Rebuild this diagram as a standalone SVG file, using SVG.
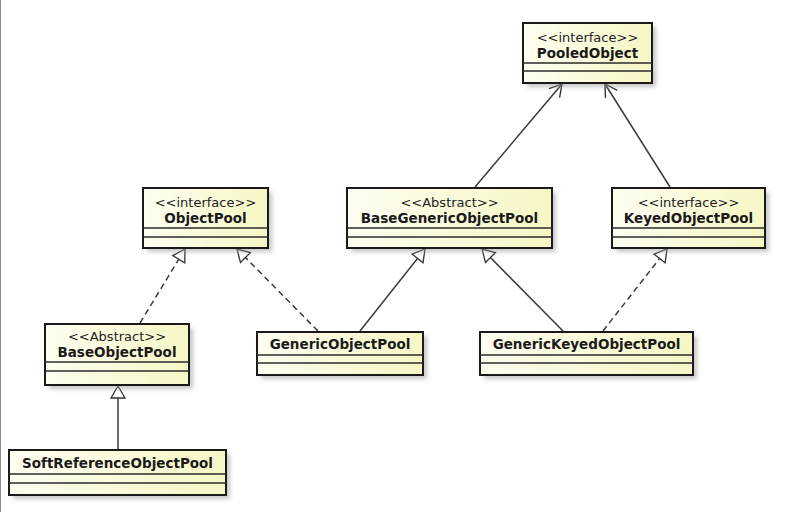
<svg xmlns="http://www.w3.org/2000/svg" width="800" height="512" viewBox="0 0 800 512">
<defs>
<linearGradient id="fill" x1="0" y1="0" x2="1" y2="0">
<stop offset="0" stop-color="#fefef2"/>
<stop offset="1" stop-color="#f6f6c4"/>
</linearGradient>
<filter id="sh" x="-10%" y="-10%" width="130%" height="140%">
<feGaussianBlur stdDeviation="2"/>
</filter>
<marker id="tri" markerUnits="userSpaceOnUse" markerWidth="16" markerHeight="16" refX="13" refY="7" orient="auto" overflow="visible">
<path d="M1,0 L13,7 L1,14 Z" fill="#ffffff" stroke="#333333" stroke-width="1.3" stroke-dasharray="none"/>
</marker>
<marker id="open" markerUnits="userSpaceOnUse" markerWidth="16" markerHeight="16" refX="13" refY="7" orient="auto" overflow="visible">
<path d="M1,0 L13,7 L1,14" fill="none" stroke="#333333" stroke-width="1.4"/>
</marker>
</defs>
<style>
.shadow{fill:#9a9a9a;opacity:0.55;filter:url(#sh)}
.box{fill:url(#fill);stroke:#1a1a1a;stroke-width:2}
.sep{stroke:#2a2a2a;stroke-width:1.3}
.st{font-family:"DejaVu Sans",sans-serif;font-size:13px;fill:#222;text-anchor:middle}
.nm{font-family:"DejaVu Sans",sans-serif;font-size:13.5px;font-weight:bold;fill:#1a1a1a;text-anchor:middle}
.ln{stroke:#3a3a3a;stroke-width:1.5;fill:none}
.dash{stroke-dasharray:6,4}
</style>
<rect width="800" height="512" fill="#ffffff"/>
<line x1="0.5" y1="0" x2="0.5" y2="512" stroke="#8a8a8a" stroke-width="1"/>

<g id="connectors">
<line class="ln dash" x1="140" y1="323" x2="185" y2="249" marker-end="url(#tri)"/>
<line class="ln dash" x1="318" y1="331" x2="237" y2="249" marker-end="url(#tri)"/>
<line class="ln" x1="360" y1="331" x2="425" y2="249" marker-end="url(#tri)"/>
<line class="ln" x1="563" y1="331" x2="482" y2="249" marker-end="url(#tri)"/>
<line class="ln dash" x1="603" y1="331" x2="667" y2="249" marker-end="url(#tri)"/>
<line class="ln" x1="118" y1="449" x2="118" y2="386" marker-end="url(#tri)"/>
<line class="ln" x1="475" y1="187" x2="562" y2="84" marker-end="url(#open)"/>
<line class="ln" x1="670" y1="187" x2="605" y2="84" marker-end="url(#open)"/>
</g>

<g id="PooledObject">
<rect class="shadow" x="527" y="27" width="129" height="60"/>
<rect class="box" x="523" y="23" width="129" height="60"/>
<line class="sep" x1="523" y1="63" x2="652" y2="63"/>
<line class="sep" x1="523" y1="71" x2="652" y2="71"/>
<text class="st" x="587.5" y="42">&lt;&lt;interface&gt;&gt;</text>
<text class="nm" x="587.5" y="58">PooledObject</text>
</g>

<g id="ObjectPool">
<rect class="shadow" x="147" y="192" width="125" height="60"/>
<rect class="box" x="143" y="188" width="125" height="60"/>
<line class="sep" x1="143" y1="228" x2="268" y2="228"/>
<line class="sep" x1="143" y1="237" x2="268" y2="237"/>
<text class="st" x="205.5" y="207">&lt;&lt;interface&gt;&gt;</text>
<text class="nm" x="205.5" y="223">ObjectPool</text>
</g>

<g id="BaseGenericObjectPool">
<rect class="shadow" x="351" y="192" width="205" height="60"/>
<rect class="box" x="347" y="188" width="205" height="60"/>
<line class="sep" x1="347" y1="228" x2="552" y2="228"/>
<line class="sep" x1="347" y1="237" x2="552" y2="237"/>
<text class="st" x="449.5" y="207">&lt;&lt;Abstract&gt;&gt;</text>
<text class="nm" x="449.5" y="223">BaseGenericObjectPool</text>
</g>

<g id="KeyedObjectPool">
<rect class="shadow" x="616" y="192" width="153" height="60"/>
<rect class="box" x="612" y="188" width="153" height="60"/>
<line class="sep" x1="612" y1="228" x2="765" y2="228"/>
<line class="sep" x1="612" y1="237" x2="765" y2="237"/>
<text class="st" x="688.5" y="207">&lt;&lt;interface&gt;&gt;</text>
<text class="nm" x="688.5" y="223">KeyedObjectPool</text>
</g>

<g id="BaseObjectPool">
<rect class="shadow" x="49" y="328" width="144" height="61"/>
<rect class="box" x="45" y="324" width="144" height="61"/>
<line class="sep" x1="45" y1="362" x2="189" y2="362"/>
<line class="sep" x1="45" y1="371" x2="189" y2="371"/>
<text class="st" x="117" y="341">&lt;&lt;Abstract&gt;&gt;</text>
<text class="nm" x="117" y="357">BaseObjectPool</text>
</g>

<g id="GenericObjectPool">
<rect class="shadow" x="261" y="336" width="166" height="43"/>
<rect class="box" x="257" y="332" width="166" height="43"/>
<line class="sep" x1="257" y1="355" x2="423" y2="355"/>
<line class="sep" x1="257" y1="363" x2="423" y2="363"/>
<text class="nm" x="340" y="349">GenericObjectPool</text>
</g>

<g id="GenericKeyedObjectPool">
<rect class="shadow" x="484" y="336" width="213" height="43"/>
<rect class="box" x="480" y="332" width="213" height="43"/>
<line class="sep" x1="480" y1="355" x2="693" y2="355"/>
<line class="sep" x1="480" y1="363" x2="693" y2="363"/>
<text class="nm" x="586.5" y="349">GenericKeyedObjectPool</text>
</g>

<g id="SoftReferenceObjectPool">
<rect class="shadow" x="13" y="454" width="217" height="45"/>
<rect class="box" x="9" y="450" width="217" height="45"/>
<line class="sep" x1="9" y1="474" x2="226" y2="474"/>
<line class="sep" x1="9" y1="483" x2="226" y2="483"/>
<text class="nm" x="117.5" y="468">SoftReferenceObjectPool</text>
</g>
</svg>
